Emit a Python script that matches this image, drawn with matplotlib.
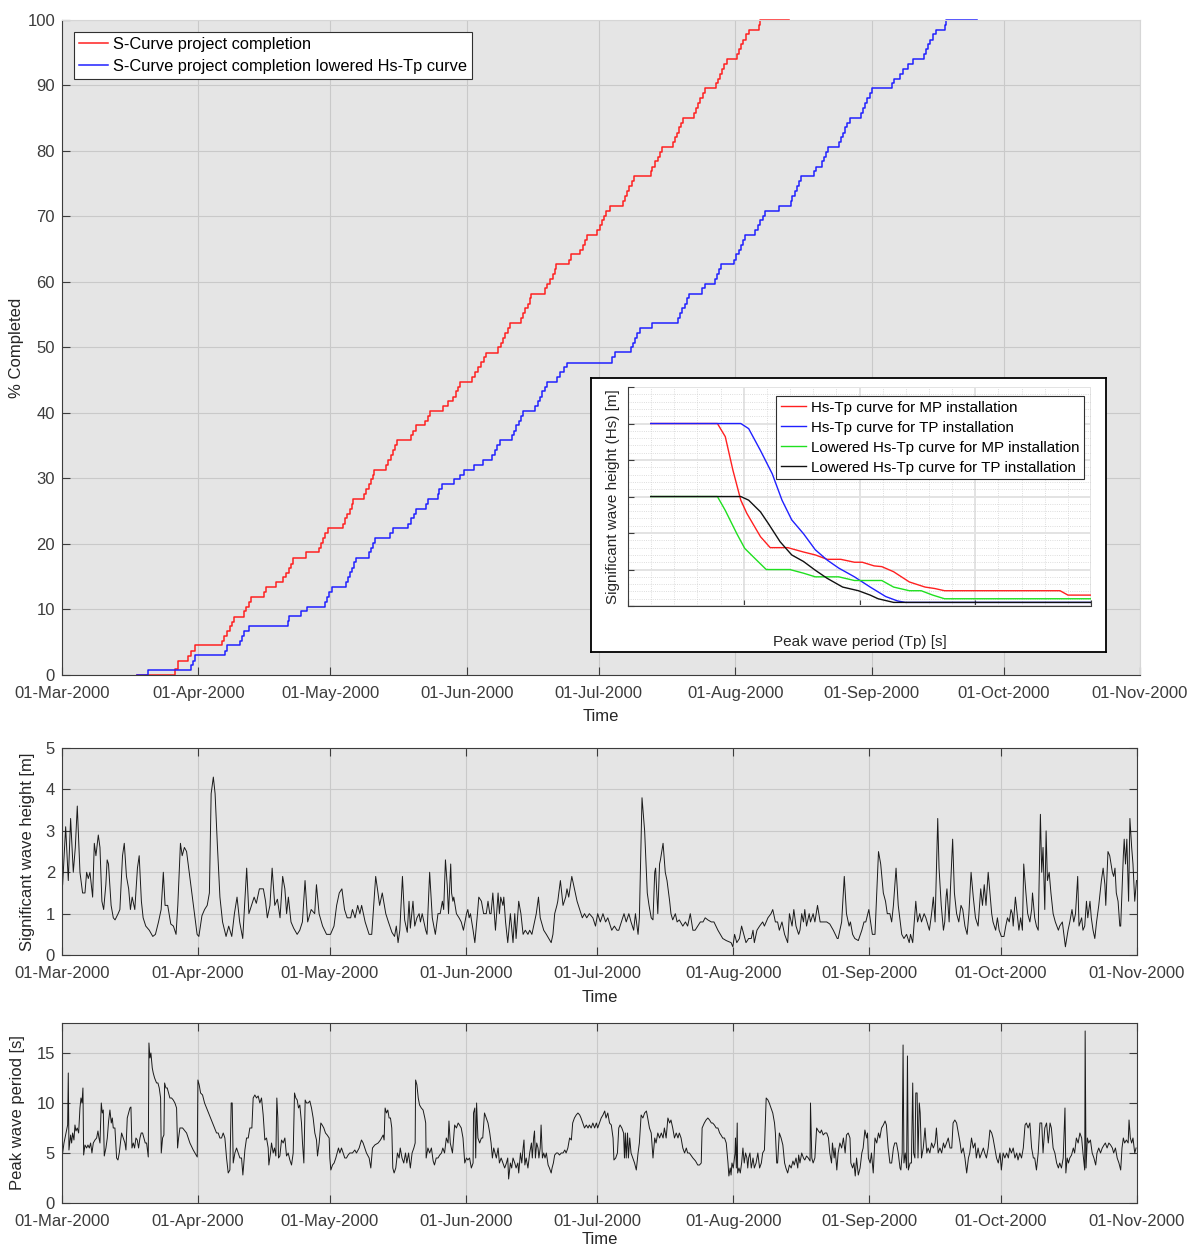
import numpy as np
import pandas as pd
import matplotlib
matplotlib.use('Agg')
import matplotlib.pyplot as plt
import matplotlib.dates as mdates
from matplotlib.ticker import MultipleLocator

plt.rcParams['font.family'] = ['Liberation Sans', 'DejaVu Sans']

START = pd.Timestamp('2000-03-01')
END = pd.Timestamp('2000-11-01')

# S-curves: (day since 01-Mar, % completed) step vertices
scurve_normal = [
    (17.1, 0), (25.6, 0.9), (26.3, 2.2), (28.7, 2.95), (29.4, 3.7), (30.2, 4.5), (36.3, 5.2), (36.9, 6.0),
    (37.5, 6.7), (38.1, 7.4), (38.6, 8.1), (39.0, 8.9), (41.4, 9.7), (41.9, 10.4), (42.4, 11.2), (43.0, 11.9),
    (45.9, 12.6), (46.4, 13.4), (48.7, 14.2), (50.3, 14.9), (51.0, 15.6), (51.5, 16.3), (52.0, 17.0), (52.5, 17.9),
    (55.4, 18.7), (58.4, 19.4), (58.9, 20.1), (59.4, 20.9), (59.8, 21.6), (60.4, 22.4), (63.9, 23.1), (64.3, 23.9),
    (64.8, 24.6), (65.4, 25.4), (65.9, 26.1), (66.2, 26.9), (68.7, 27.6), (69.2, 28.4), (69.7, 29.1), (70.2, 29.9),
    (70.6, 30.6), (71.0, 31.3), (73.7, 32.1), (74.2, 32.8), (74.8, 33.6), (75.3, 34.3), (75.8, 35.1), (76.1, 35.8),
    (79.3, 36.6), (79.8, 37.3), (80.4, 38.1), (82.6, 38.8), (83.1, 39.6), (83.6, 40.3), (86.5, 41.0), (87.8, 41.8),
    (88.9, 42.5), (89.5, 43.3), (90.0, 44.0), (90.5, 44.8), (93.2, 45.5), (93.9, 46.3), (94.5, 47.0), (95.2, 47.8),
    (95.9, 48.5), (96.3, 49.2), (99.1, 50.0), (99.7, 50.7), (100.2, 51.5), (100.8, 52.2), (101.4, 53.0), (101.8, 53.7),
    (104.3, 54.5), (104.8, 55.2), (105.3, 56.0), (105.9, 56.7), (106.3, 57.5), (106.7, 58.2), (109.7, 59.0), (110.3, 59.7),
    (110.9, 60.4), (111.5, 61.2), (112.0, 61.9), (112.3, 62.7), (115.2, 63.4), (115.8, 64.2), (117.8, 64.9), (118.4, 65.7),
    (118.9, 66.4), (119.3, 67.2), (121.6, 67.9), (122.2, 68.7), (122.7, 69.4), (123.2, 70.1), (123.7, 70.9), (124.6, 71.6),
    (127.6, 72.4), (128.0, 73.1), (128.4, 73.9), (128.9, 74.6), (129.5, 75.4), (130.0, 76.1), (133.8, 76.9), (134.2, 77.6),
    (134.8, 78.4), (135.4, 79.1), (135.9, 79.9), (136.3, 80.6), (138.8, 81.3), (139.3, 82.1), (139.8, 82.8), (140.3, 83.6),
    (140.8, 84.3), (141.2, 85.1), (143.7, 85.8), (144.1, 86.6), (144.6, 87.3), (145.0, 88.1), (145.6, 88.8), (146.1, 89.6),
    (148.6, 90.3), (149.0, 91.0), (149.5, 91.8), (150.0, 92.5), (150.5, 93.3), (151.2, 94.0), (153.4, 94.8), (153.9, 95.5),
    (154.4, 96.3), (154.9, 97.0), (155.5, 97.8), (156.1, 98.5), (158.4, 99.3), (158.6, 100), (165.3, 100),
]

scurve_lowered = [
    (17.1, 0), (19.6, 0.7), (29.3, 1.5), (29.8, 2.2), (30.3, 3.0), (37.0, 3.7), (37.4, 4.5), (40.4, 5.2),
    (40.9, 6.0), (41.3, 6.7), (42.6, 7.5), (51.3, 8.2), (51.7, 9.0), (54.3, 9.7), (55.7, 10.4), (59.8, 11.2),
    (60.2, 11.9), (60.8, 12.7), (61.3, 13.4), (64.5, 14.2), (65.0, 14.9), (65.4, 15.7), (65.9, 16.4), (66.4, 17.2),
    (66.9, 17.9), (69.7, 18.7), (70.3, 19.4), (70.6, 20.1), (71.1, 20.9), (74.6, 21.6), (75.2, 22.4), (78.7, 23.1),
    (79.4, 23.9), (80.0, 24.6), (80.5, 25.4), (82.8, 26.1), (83.3, 26.9), (85.4, 27.6), (85.8, 28.4), (86.4, 29.1),
    (89.0, 29.9), (90.4, 30.6), (91.3, 31.3), (93.7, 32.1), (95.8, 32.8), (97.8, 33.6), (98.4, 34.3), (98.9, 35.1),
    (99.5, 35.8), (102.2, 36.6), (102.8, 37.3), (103.3, 38.1), (103.8, 38.8), (104.3, 39.6), (104.8, 40.3), (107.6, 41.0),
    (108.1, 41.8), (108.7, 42.5), (109.2, 43.3), (109.8, 44.0), (110.2, 44.8), (112.6, 45.5), (113.2, 46.3), (114.0, 47.0),
    (114.8, 47.7), (125.1, 48.5), (125.8, 49.3), (129.4, 50.0), (129.8, 50.7), (130.2, 51.5), (130.7, 52.2), (131.4, 53.0),
    (134.2, 53.7), (140.0, 54.5), (140.4, 55.2), (140.9, 56.0), (141.5, 56.7), (142.0, 57.5), (142.5, 58.2), (145.5, 59.0),
    (146.1, 59.7), (148.4, 60.4), (148.9, 61.2), (149.4, 61.9), (149.9, 62.7), (152.8, 63.4), (153.3, 64.2), (153.8, 64.9),
    (154.4, 65.7), (154.9, 66.4), (155.3, 67.2), (157.6, 67.9), (158.2, 68.7), (158.7, 69.4), (159.3, 70.1), (159.8, 70.9),
    (162.9, 71.6), (165.6, 72.4), (166.0, 73.1), (166.5, 73.9), (167.0, 74.6), (167.5, 75.4), (168.0, 76.1), (170.9, 76.9),
    (171.4, 77.6), (172.7, 78.4), (173.1, 79.1), (173.6, 79.9), (174.1, 80.6), (176.7, 81.3), (177.1, 82.1), (177.5, 82.8),
    (177.9, 83.6), (178.4, 84.3), (179.1, 85.1), (181.6, 85.8), (182.1, 86.6), (182.5, 87.3), (183.0, 88.1), (183.6, 88.8),
    (184.2, 89.6), (188.7, 90.3), (189.1, 91.0), (190.5, 91.8), (191.1, 92.5), (192.3, 93.3), (193.4, 94.0), (195.9, 94.8),
    (196.4, 95.5), (196.9, 96.3), (197.4, 97.0), (198.0, 97.8), (198.7, 98.5), (200.8, 99.3), (201.0, 100), (207.9, 100),
]

# Hs-Tp limit curves (Tp [s], Hs [m])
hstp_mp = [(0.98, 2.5), (3.86, 2.5), (4.2, 2.32), (4.53, 1.86), (4.87, 1.45), (5.13, 1.27), (5.72, 0.95),
           (6.14, 0.8), (6.9, 0.8), (7.58, 0.74), (8.09, 0.7), (8.6, 0.64), (9.19, 0.64), (9.78, 0.6),
           (10.12, 0.6), (10.63, 0.55), (10.96, 0.54), (11.47, 0.47), (12.15, 0.33), (12.83, 0.26),
           (13.25, 0.24), (13.67, 0.21), (18.66, 0.21), (19.0, 0.15), (20.0, 0.15)]
hstp_tp = [(0.98, 2.5), (4.87, 2.5), (5.21, 2.43), (5.72, 2.13), (6.23, 1.81), (6.65, 1.45), (7.07, 1.18),
           (7.58, 0.99), (8.09, 0.77), (8.6, 0.63), (9.1, 0.52), (9.78, 0.4), (10.46, 0.26), (11.13, 0.13),
           (11.64, 0.07), (11.98, 0.05), (20.0, 0.05)]
hstp_mp_low = [(0.98, 1.5), (3.86, 1.5), (4.2, 1.31), (4.7, 0.99), (5.04, 0.79), (5.55, 0.63), (5.97, 0.5),
               (6.99, 0.5), (7.58, 0.45), (8.09, 0.4), (9.1, 0.4), (9.78, 0.35), (10.96, 0.35), (11.47, 0.26),
               (12.15, 0.21), (12.66, 0.21), (13.16, 0.15), (13.67, 0.1), (20.0, 0.1)]
hstp_tp_low = [(0.98, 1.5), (4.87, 1.5), (5.21, 1.45), (5.72, 1.29), (6.06, 1.13), (6.57, 0.88), (7.07, 0.7),
               (7.58, 0.61), (8.09, 0.49), (8.6, 0.38), (9.27, 0.26), (9.95, 0.21), (10.46, 0.15), (10.8, 0.1),
               (11.47, 0.05), (20.0, 0.05)]

# Significant wave height (day since 01-Mar, Hs [m])
hs_series = [
    (0.15, 1.7), (0.84, 3.1), (1.44, 1.8), (1.97, 3.3), (2.58, 2.0), (3.04, 2.6), (3.49, 3.6), (4.1, 2.0), (4.7, 1.5),
    (5.24, 1.5), (5.62, 2.0), (6.0, 1.85), (6.38, 2.0), (6.99, 1.4), (7.37, 2.7), (7.74, 2.4), (8.28, 2.9), (8.66, 2.6),
    (9.1, 1.3), (9.5, 1.1), (10.0, 1.7), (10.3, 2.3), (10.6, 2.2), (11.2, 1.2), (11.7, 0.9), (12.1, 0.85), (12.8, 1.0),
    (13.2, 1.1), (13.8, 2.4), (14.2, 2.7), (14.7, 1.9), (15.2, 1.6), (15.6, 1.1), (16.0, 1.4), (16.6, 1.1), (17.2, 2.1),
    (17.6, 2.4), (18.1, 1.3), (18.5, 0.9), (19.1, 0.7), (19.9, 0.6), (20.7, 0.45), (21.3, 0.5), (22.0, 0.8), (22.6, 1.1),
    (23.1, 2.0), (23.5, 1.2), (24.1, 1.2), (24.8, 0.75), (25.4, 0.7), (26.0, 0.5), (26.4, 1.2), (27.0, 2.7), (27.4, 2.4),
    (27.9, 2.6), (28.4, 2.5), (29.0, 2.0), (29.6, 1.5), (30.2, 1.0), (30.8, 0.5), (31.2, 0.45), (31.9, 0.95), (32.5, 1.1),
    (33.1, 1.2), (33.6, 1.5), (34.0, 3.9), (34.5, 4.3), (34.9, 3.9), (35.4, 2.7), (36.0, 1.4), (36.6, 0.8), (37.4, 0.45),
    (38.0, 0.7), (38.7, 0.45), (39.3, 1.0), (39.9, 1.4), (40.5, 0.8), (41.2, 0.4), (42.1, 2.1), (42.6, 1.0), (43.2, 1.2),
    (43.8, 1.4), (44.3, 1.25), (45.0, 1.6), (45.9, 1.6), (46.4, 1.3), (46.8, 0.9), (47.4, 1.2), (47.9, 2.1), (48.5, 1.2),
    (49.1, 1.35), (49.7, 0.9), (50.3, 1.9), (50.8, 1.6), (51.2, 1.0), (51.6, 1.4), (52.2, 0.8), (52.8, 0.65), (53.6, 0.5),
    (54.2, 0.6), (54.8, 0.8), (55.4, 1.8), (56.0, 0.8), (56.8, 1.1), (57.6, 1.0), (58.0, 1.7), (58.6, 1.0), (59.4, 0.7),
    (60.3, 0.5), (61.2, 0.5), (62.0, 0.7), (62.6, 1.2), (63.2, 1.5), (63.8, 1.6), (64.4, 1.1), (65.0, 0.9), (65.8, 0.9),
    (66.2, 1.1), (66.8, 0.9), (67.4, 1.2), (67.9, 1.0), (68.3, 1.2), (69.1, 0.8), (70.0, 0.5), (70.6, 0.5), (71.5, 1.9),
    (71.9, 1.6), (72.4, 1.2), (73.0, 1.5), (73.8, 1.0), (74.4, 0.8), (75.2, 0.55), (75.8, 0.45), (76.2, 0.7), (76.6, 0.3),
    (77.0, 0.6), (77.6, 1.9), (78.1, 0.85), (78.7, 0.55), (79.1, 1.3), (79.4, 0.65), (80.0, 1.3), (80.4, 0.7), (80.9, 0.9),
    (81.4, 1.0), (81.7, 0.8), (82.1, 1.0), (82.9, 0.6), (83.2, 0.5), (83.4, 1.0), (83.8, 2.0), (84.4, 0.9), (85.1, 0.5),
    (85.7, 1.0), (86.2, 1.0), (86.7, 1.3), (87.0, 1.1), (87.4, 2.3), (87.8, 1.7), (88.1, 1.0), (88.6, 2.2), (88.8, 1.5),
    (89.1, 1.3), (89.3, 1.4), (89.9, 1.0), (90.5, 0.9), (91.0, 0.8), (91.5, 0.6), (92.2, 1.0), (92.5, 1.1), (92.8, 0.9),
    (93.1, 1.0), (93.7, 0.6), (94.1, 0.3), (94.7, 1.0), (95.0, 1.4), (95.6, 1.3), (96.1, 1.0), (96.7, 1.0), (97.1, 1.3),
    (97.5, 1.0), (97.8, 1.0), (98.2, 1.5), (98.8, 0.6), (99.4, 1.5), (99.7, 1.0), (100.0, 1.4), (100.5, 1.2), (100.7, 1.4),
    (101.1, 0.8), (101.6, 0.3), (102.2, 1.0), (102.8, 0.3), (103.2, 1.0), (103.5, 0.4), (104.1, 1.3), (104.6, 1.0),
    (105.1, 0.5), (105.6, 0.6), (106.2, 0.5), (106.6, 0.6), (107.1, 0.5), (107.7, 0.8), (108.1, 1.0), (108.6, 1.4),
    (109.0, 0.9), (109.8, 0.6), (110.4, 0.5), (111.5, 0.3), (111.9, 0.5), (112.3, 1.0), (112.8, 1.2), (113.0, 1.3),
    (113.6, 1.8), (114.2, 1.2), (114.8, 1.4), (115.1, 1.6), (115.5, 1.4), (116.2, 1.9), (116.8, 1.6), (117.4, 1.3),
    (118.0, 1.1), (118.6, 0.9), (119.1, 1.0), (119.6, 0.9), (120.2, 1.0), (121.0, 0.9), (121.6, 0.7), (122.1, 1.0),
    (122.7, 0.8), (123.3, 1.0), (123.9, 0.8), (124.4, 0.9), (125.3, 0.6), (125.9, 0.7), (126.5, 0.6), (126.9, 0.6),
    (127.5, 0.8), (128.1, 1.0), (128.6, 0.8), (129.2, 1.0), (129.7, 0.8), (130.3, 0.6), (130.7, 1.0), (131.3, 0.5),
    (131.6, 0.9), (132.2, 3.8), (132.8, 3.0), (133.4, 1.5), (133.8, 1.2), (134.3, 0.9), (134.7, 0.85), (135.1, 2.0),
    (135.3, 2.1), (135.8, 1.0), (136.2, 2.2), (136.4, 2.3), (137.0, 2.7), (137.5, 2.0), (137.9, 1.8), (138.5, 1.3),
    (138.8, 1.0), (139.2, 0.85), (139.8, 1.0), (140.2, 0.8), (140.7, 0.85), (141.5, 0.7), (142.1, 0.8), (142.6, 0.7),
    (143.2, 1.0), (143.8, 0.6), (144.3, 0.6), (144.9, 0.7), (145.5, 0.8), (146.1, 0.8), (146.6, 0.9), (147.2, 0.85),
    (148.0, 0.8), (148.6, 0.8), (149.5, 0.6), (150.6, 0.4), (151.4, 0.35), (152.5, 0.3), (152.9, 0.2), (153.3, 0.5),
    (153.8, 0.3), (154.4, 0.4), (154.9, 0.7), (155.4, 0.5), (155.9, 0.3), (156.5, 0.4), (157.1, 0.4), (157.5, 0.6),
    (157.8, 0.3), (158.4, 0.6), (159.0, 0.7), (159.7, 0.8), (160.1, 0.7), (160.9, 0.9), (161.6, 1.0), (162.0, 1.1),
    (162.6, 0.8), (163.1, 0.8), (163.5, 0.6), (164.1, 0.8), (164.7, 0.5), (165.4, 0.3), (165.8, 1.0), (166.4, 0.7),
    (166.8, 1.1), (167.3, 0.7), (167.9, 0.5), (168.2, 0.6), (168.6, 1.0), (169.0, 0.8), (169.3, 1.1), (169.7, 0.7),
    (170.3, 1.0), (170.6, 0.8), (171.2, 1.0), (171.6, 0.8), (172.2, 1.2), (172.8, 0.8), (173.5, 0.8), (174.3, 0.8),
    (175.0, 0.75), (175.8, 0.6), (176.7, 0.4), (176.9, 0.4), (177.7, 0.8), (178.3, 1.9), (178.8, 1.0), (179.4, 0.7),
    (179.7, 0.8), (180.2, 0.5), (180.7, 0.4), (181.5, 0.35), (182.3, 0.6), (182.8, 0.8), (183.2, 0.8), (183.9, 1.1),
    (184.3, 0.8), (184.7, 0.5), (185.3, 0.5), (186.1, 2.5), (186.6, 2.2), (187.2, 1.5), (187.7, 1.3), (188.1, 1.0),
    (188.7, 1.0), (189.1, 0.8), (189.5, 1.2), (190.1, 2.1), (190.6, 1.2), (191.4, 0.5), (191.9, 0.4), (192.5, 0.5),
    (193.1, 0.3), (193.4, 0.5), (193.9, 0.3), (194.6, 1.3), (195.0, 0.8), (195.5, 1.0), (195.9, 0.8), (196.5, 1.0),
    (196.9, 0.9), (197.7, 0.6), (198.2, 1.0), (198.6, 1.4), (199.0, 0.8), (199.6, 3.3), (199.9, 2.1), (200.4, 1.2),
    (200.9, 0.6), (201.2, 0.8), (201.5, 1.4), (201.7, 1.6), (202.2, 0.8), (202.5, 1.6), (203.0, 2.8), (203.4, 1.5),
    (203.9, 1.0), (204.4, 0.8), (204.9, 1.2), (205.3, 1.1), (205.8, 0.7), (206.3, 0.5), (206.7, 1.0), (207.2, 2.0),
    (207.7, 1.4), (208.2, 0.9), (208.8, 0.7), (209.4, 1.6), (209.8, 1.2), (210.2, 1.7), (210.6, 1.2), (211.1, 2.0),
    (211.5, 1.5), (211.9, 1.0), (212.2, 0.8), (212.8, 0.6), (213.2, 0.9), (213.6, 0.6), (214.1, 0.45), (214.7, 0.45),
    (215.1, 0.7), (215.5, 0.9), (215.9, 0.8), (216.3, 1.1), (216.6, 1.0), (216.8, 0.7), (217.3, 1.4), (217.7, 1.0),
    (218.1, 0.6), (218.5, 0.9), (218.9, 0.6), (219.2, 2.2), (219.7, 1.5), (220.1, 1.0), (220.6, 0.8), (221.0, 1.1),
    (221.2, 1.5), (221.7, 0.9), (222.1, 0.7), (222.5, 0.6), (223.0, 3.4), (223.3, 2.0), (223.6, 2.6), (224.0, 1.1),
    (224.3, 3.0), (224.6, 1.8), (225.0, 2.0), (225.4, 1.5), (225.9, 1.0), (226.4, 0.8), (227.1, 0.6), (227.4, 0.7),
    (228.0, 0.8), (228.7, 0.2), (229.3, 0.6), (229.7, 0.8), (230.2, 1.1), (230.6, 0.8), (231.0, 1.0), (231.5, 1.9),
    (231.8, 0.7), (232.4, 0.9), (232.7, 0.6), (233.1, 0.7), (233.5, 1.3), (233.8, 0.9), (234.3, 1.3), (234.6, 0.9),
    (235.0, 0.6), (235.4, 0.4), (235.8, 0.8), (236.3, 1.2), (236.9, 1.8), (237.3, 2.1), (237.7, 1.7), (237.9, 1.2),
    (238.4, 2.5), (238.8, 2.4), (239.4, 2.0), (239.7, 1.9), (240.0, 2.1), (240.3, 1.5), (240.7, 1.3), (241.1, 0.7),
    (241.3, 0.7), (241.9, 2.4), (242.1, 2.8), (242.4, 2.2), (242.7, 2.8), (243.1, 1.3), (243.4, 3.3), (243.8, 2.6),
    (244.1, 2.2), (244.5, 1.3), (244.9, 1.8),
]

# Peak wave period (day since 01-Mar, Tp [s])
tp_series = [
    (0.15, 5.0), (0.46, 6.0), (0.91, 7.0), (1.29, 7.8), (1.44, 13.0), (1.59, 5.3), (1.97, 6.8), (2.2, 6.0), (2.43, 7.0),
    (2.73, 6.3), (2.96, 7.8), (3.19, 7.2), (3.49, 7.5), (3.8, 7.0), (4.1, 9.5), (4.33, 10.5), (4.56, 10.0), (4.78, 11.5),
    (4.94, 4.8), (5.24, 5.8), (5.62, 5.5), (5.92, 5.8), (6.23, 5.5), (6.53, 6.0), (6.83, 5.0), (7.14, 6.0), (7.52, 6.3),
    (7.9, 6.5), (8.2, 7.2), (8.43, 6.5), (8.66, 6.0), (8.96, 10.0), (9.19, 9.0), (9.42, 9.3), (9.64, 4.7), (10.02, 5.5),
    (10.33, 6.5), (10.63, 8.2), (10.93, 9.3), (11.24, 8.0), (11.47, 8.5), (11.69, 7.5), (12.07, 7.5), (12.45, 4.5),
    (12.76, 4.3), (13.06, 5.0), (13.59, 7.0), (13.97, 6.5), (14.35, 6.0), (14.58, 5.3), (14.88, 8.5), (15.19, 9.0),
    (15.49, 9.5), (15.72, 9.6), (15.95, 5.5), (16.25, 6.0), (16.55, 5.5), (16.86, 6.5), (17.16, 6.3), (17.46, 5.5),
    (17.77, 6.5), (18.07, 7.0), (18.37, 7.0), (18.68, 6.5), (18.98, 6.0), (19.29, 6.0), (19.67, 4.6), (19.82, 16.0),
    (20.05, 14.5), (20.27, 15.0), (20.58, 13.5), (20.8, 13.0), (21.11, 12.5), (21.56, 12.0), (21.87, 12.0), (22.17, 11.5),
    (22.48, 10.5), (22.63, 5.0), (22.93, 6.5), (23.23, 6.8), (23.39, 12.0), (23.69, 11.5), (23.99, 11.5), (24.3, 11.0),
    (24.6, 10.5), (24.98, 10.5), (25.36, 10.3), (25.74, 10.0), (26.12, 9.5), (26.35, 5.5), (26.58, 6.5), (26.88, 7.5),
    (27.49, 7.5), (28.4, 7.0), (29.16, 6.0), (29.92, 5.3), (30.83, 4.6), (30.98, 12.3), (31.28, 11.8), (31.59, 11.0),
    (32.04, 10.8), (32.5, 10.0), (32.95, 9.5), (33.41, 9.0), (33.87, 8.5), (34.32, 8.0), (34.78, 7.5), (35.23, 7.0),
    (35.61, 7.0), (35.99, 6.5), (36.37, 6.5), (36.75, 7.0), (37.13, 6.5), (37.51, 4.5), (37.89, 3.0), (38.27, 3.3),
    (38.57, 10.0), (38.8, 10.0), (39.03, 4.0), (39.41, 5.0), (39.79, 5.5), (40.17, 5.0), (40.55, 4.5), (40.93, 4.5),
    (41.23, 2.8), (41.69, 5.3), (42.07, 6.5), (42.45, 6.5), (42.82, 7.5), (43.28, 7.5), (43.58, 10.5), (43.96, 10.8),
    (44.34, 10.5), (44.72, 10.7), (45.1, 10.0), (45.48, 10.5), (45.86, 8.8), (46.24, 6.3), (46.62, 6.5), (47.0, 5.5),
    (47.15, 3.8), (47.53, 5.0), (47.76, 6.0), (48.14, 5.0), (48.44, 5.5), (48.75, 4.7), (48.97, 10.5), (49.2, 8.5),
    (49.35, 4.5), (49.66, 4.7), (50.04, 6.3), (50.42, 6.0), (50.8, 6.5), (51.18, 4.7), (51.56, 5.0), (51.94, 4.3),
    (52.32, 3.8), (52.7, 5.0), (53.0, 11.0), (53.3, 10.5), (53.61, 10.3), (53.91, 9.5), (54.21, 9.8), (54.59, 8.0),
    (54.82, 6.0), (55.13, 4.0), (55.43, 10.3), (55.73, 10.0), (56.11, 10.0), (56.49, 10.2), (56.87, 9.5), (57.25, 8.5),
    (57.63, 7.0), (58.01, 6.3), (58.24, 4.7), (58.62, 6.0), (59.0, 8.0), (59.3, 7.8), (59.68, 7.5), (60.06, 7.0),
    (60.44, 6.8), (60.9, 6.5), (61.05, 4.5), (61.28, 3.3), (61.66, 3.8), (62.03, 4.0), (62.41, 4.5), (62.72, 5.0),
    (63.02, 5.5), (63.33, 5.0), (63.71, 5.5), (64.09, 5.0), (64.46, 4.5), (64.84, 4.5), (65.22, 4.8), (65.6, 5.0),
    (66.21, 5.0), (66.74, 5.3), (67.12, 5.0), (67.73, 5.5), (68.26, 6.3), (68.64, 6.0), (69.02, 5.5), (69.4, 5.0),
    (70.01, 4.5), (70.39, 3.5), (70.77, 5.5), (71.3, 5.8), (72.06, 6.0), (72.59, 6.3), (73.2, 6.8), (73.42, 6.3),
    (73.65, 9.5), (73.96, 9.0), (74.26, 9.3), (74.56, 8.5), (74.87, 8.5), (75.17, 7.5), (75.4, 3.5), (75.7, 3.0),
    (76.08, 3.5), (76.46, 5.0), (76.84, 4.5), (77.1, 5.5), (77.5, 4.5), (77.9, 4.0), (78.3, 5.0), (78.6, 4.0), (79.0, 5.0),
    (79.4, 3.5), (79.8, 5.0), (80.2, 5.5), (80.5, 6.0), (80.6, 12.3), (80.9, 11.8), (81.2, 10.5), (81.5, 9.8), (81.9, 9.5),
    (82.3, 9.3), (82.7, 8.5), (82.9, 8.0), (83.0, 4.5), (83.4, 5.5), (83.8, 5.0), (84.2, 5.5), (84.6, 4.2), (84.9, 3.8),
    (85.3, 4.5), (85.7, 4.5), (86.1, 4.8), (86.5, 5.0), (86.8, 5.5), (87.2, 5.0), (87.6, 6.5), (88.0, 6.0), (88.2, 8.2),
    (88.5, 6.0), (89.0, 5.0), (89.5, 7.8), (89.9, 7.5), (90.3, 8.0), (90.6, 7.8), (91.0, 7.5), (91.4, 6.5), (91.8, 4.0),
    (92.2, 4.5), (92.5, 4.3), (92.9, 4.5), (93.3, 3.5), (93.7, 4.0), (93.8, 9.0), (94.1, 9.5), (94.3, 4.5), (94.5, 10.0),
    (94.8, 6.5), (95.2, 6.0), (95.6, 6.5), (95.9, 6.5), (96.3, 9.0), (96.7, 8.5), (97.1, 8.0), (97.5, 7.0), (97.8, 6.0),
    (98.1, 4.5), (98.4, 5.5), (98.7, 5.0), (99.0, 4.5), (99.4, 5.5), (99.7, 4.0), (100.1, 4.5), (100.5, 4.0),
    (100.9, 3.5), (101.3, 4.0), (101.6, 4.5), (101.8, 2.4), (102.2, 4.0), (102.5, 3.5), (102.8, 4.5), (103.2, 4.0),
    (103.5, 3.5), (103.9, 4.0), (104.1, 3.0), (104.5, 5.0), (104.8, 4.0), (105.1, 5.5), (105.3, 6.3), (105.5, 3.8),
    (105.8, 4.5), (106.2, 3.5), (106.6, 5.0), (107.0, 6.0), (107.2, 4.5), (107.5, 6.5), (107.7, 7.2), (107.9, 4.5),
    (108.2, 6.0), (108.5, 5.5), (108.7, 4.5), (109.0, 5.5), (109.2, 7.8), (109.5, 4.5), (109.8, 5.0), (110.1, 4.5),
    (110.4, 5.0), (110.8, 3.8), (111.1, 3.5), (111.5, 3.0), (111.7, 3.5), (112.0, 4.0), (112.3, 4.8), (112.7, 5.0),
    (113.0, 5.0), (113.4, 4.8), (113.8, 5.0), (114.2, 5.0), (114.6, 5.3), (114.9, 5.0), (115.3, 5.5), (115.7, 6.5),
    (116.1, 6.3), (116.4, 8.0), (116.8, 8.5), (117.2, 8.8), (117.6, 9.0), (118.0, 8.8), (118.3, 8.5), (118.7, 8.0),
    (119.1, 7.5), (119.5, 7.8), (119.9, 7.5), (120.2, 7.8), (120.6, 7.5), (121.0, 8.0), (121.4, 7.5), (121.8, 8.0),
    (122.1, 7.5), (122.5, 8.0), (122.9, 8.5), (123.3, 8.8), (123.7, 9.2), (124.0, 8.5), (124.4, 9.0), (124.8, 8.0),
    (125.2, 7.8), (125.6, 6.5), (125.8, 4.3), (126.2, 4.5), (126.6, 5.0), (126.9, 7.5), (127.2, 7.8), (127.6, 7.5),
    (128.0, 7.0), (128.2, 4.5), (128.4, 7.0), (128.6, 4.5), (128.9, 7.0), (129.1, 4.5), (129.4, 6.5), (129.7, 5.0),
    (130.1, 4.5), (130.5, 4.0), (130.9, 3.3), (131.3, 5.0), (131.6, 6.0), (132.0, 8.8), (132.4, 8.5), (132.8, 9.0),
    (133.2, 9.2), (133.5, 8.5), (133.9, 7.5), (134.3, 7.0), (134.7, 4.5), (135.1, 6.5), (135.4, 6.0), (135.8, 7.0),
    (136.2, 6.5), (136.6, 7.0), (137.0, 6.5), (137.3, 7.5), (137.7, 6.5), (138.1, 8.5), (138.5, 8.0), (138.8, 8.3),
    (139.2, 7.5), (139.6, 6.5), (140.0, 7.0), (140.4, 6.5), (140.7, 7.0), (141.1, 6.5), (141.5, 5.5), (141.9, 5.0),
    (142.3, 5.5), (142.6, 5.0), (143.0, 5.0), (143.8, 4.5), (144.4, 4.2), (144.9, 3.8), (145.3, 3.8), (145.7, 4.0),
    (145.9, 7.5), (146.4, 8.0), (146.8, 8.3), (147.2, 8.5), (147.6, 8.3), (148.0, 8.0), (148.3, 8.0), (148.7, 7.8),
    (149.1, 7.5), (149.5, 7.5), (149.9, 7.0), (150.2, 6.8), (150.6, 6.5), (151.0, 6.5), (151.4, 6.0), (151.8, 4.0),
    (152.0, 2.7), (152.3, 3.5), (152.5, 2.8), (152.7, 4.0), (153.0, 3.5), (153.4, 5.0), (153.5, 6.5), (153.7, 3.5),
    (153.9, 8.0), (154.0, 3.0), (154.3, 3.5), (154.6, 3.0), (154.9, 4.0), (155.2, 5.5), (155.5, 4.0), (155.8, 5.0),
    (156.1, 4.5), (156.3, 3.5), (156.5, 4.5), (156.8, 5.0), (157.1, 3.5), (157.5, 4.5), (157.8, 3.5), (158.2, 4.0),
    (158.6, 5.0), (159.0, 3.5), (159.4, 4.0), (159.7, 5.0), (160.1, 5.3), (160.5, 10.5), (160.9, 10.3), (161.2, 10.0),
    (161.6, 9.5), (162.0, 9.0), (162.4, 8.0), (162.6, 7.0), (162.9, 4.0), (163.1, 4.0), (163.5, 7.0), (163.9, 6.5),
    (164.3, 5.8), (164.7, 4.0), (165.0, 3.5), (165.4, 3.0), (165.8, 3.8), (166.2, 3.5), (166.6, 4.2), (166.9, 3.8),
    (167.3, 4.5), (167.7, 3.5), (167.9, 4.8), (168.2, 4.0), (168.6, 5.0), (169.0, 4.5), (169.3, 4.3), (169.7, 4.7),
    (170.1, 4.5), (170.5, 4.2), (170.6, 10.0), (170.9, 4.5), (171.2, 4.0), (171.6, 4.5), (172.0, 7.5), (172.4, 7.2),
    (172.8, 7.0), (173.1, 7.3), (173.5, 6.8), (173.9, 7.0), (174.3, 7.0), (174.7, 6.5), (175.0, 5.0), (175.4, 4.0),
    (175.6, 6.0), (176.0, 4.5), (176.2, 5.5), (176.6, 3.3), (176.9, 5.0), (177.3, 6.0), (177.7, 5.5), (178.1, 6.5),
    (178.5, 5.0), (178.8, 6.8), (179.2, 7.0), (179.6, 6.5), (179.8, 4.0), (180.2, 3.5), (180.5, 4.0), (180.8, 2.7),
    (181.1, 4.5), (181.5, 2.8), (181.9, 3.5), (182.3, 5.0), (182.6, 5.5), (183.0, 7.3), (183.4, 6.5), (183.6, 7.0),
    (183.8, 4.5), (184.2, 4.0), (184.5, 5.0), (184.9, 3.0), (185.3, 6.5), (185.7, 6.0), (186.1, 7.0), (186.4, 6.5),
    (186.8, 7.5), (187.2, 7.8), (187.6, 8.2), (187.9, 7.8), (188.3, 5.5), (188.7, 4.0), (189.1, 4.0), (189.5, 5.5),
    (189.8, 6.0), (190.2, 6.0), (190.6, 5.0), (191.0, 3.5), (191.2, 3.3), (191.5, 5.0), (191.7, 15.8), (191.9, 4.0),
    (192.2, 5.0), (192.5, 3.5), (192.7, 14.7), (192.9, 3.3), (193.3, 4.0), (193.6, 4.0), (193.9, 12.0), (194.1, 5.0),
    (194.4, 4.5), (194.6, 11.0), (194.9, 11.0), (195.1, 4.5), (195.4, 10.0), (195.6, 9.0), (195.9, 4.5), (196.3, 5.5),
    (196.7, 7.5), (197.1, 5.0), (197.4, 5.5), (197.8, 5.0), (198.2, 6.0), (198.6, 5.5), (199.0, 6.0), (199.3, 7.5),
    (199.7, 5.0), (200.1, 5.5), (200.5, 5.0), (200.9, 6.0), (201.2, 5.5), (201.6, 6.0), (202.0, 6.5), (202.4, 5.5),
    (202.8, 5.5), (203.1, 8.0), (203.5, 8.3), (203.9, 8.0), (204.3, 7.0), (204.7, 6.0), (205.0, 5.0), (205.4, 5.5),
    (205.8, 4.5), (206.2, 3.0), (206.6, 4.5), (206.9, 5.0), (207.3, 6.5), (207.7, 5.5), (208.1, 6.0), (208.4, 4.5),
    (208.8, 5.5), (209.2, 4.5), (209.6, 5.0), (210.0, 5.5), (210.3, 5.0), (210.7, 4.5), (211.1, 5.5), (211.5, 7.3),
    (211.9, 7.0), (212.2, 6.5), (212.6, 5.5), (213.0, 4.5), (213.4, 4.0), (213.8, 5.0), (214.1, 3.3), (214.5, 5.0),
    (214.9, 4.5), (215.3, 5.0), (215.7, 4.5), (216.0, 5.5), (216.4, 5.0), (216.8, 5.5), (217.2, 4.5), (217.6, 5.0),
    (217.9, 4.3), (218.3, 5.0), (218.7, 4.5), (219.1, 5.5), (219.5, 7.8), (219.8, 8.0), (220.2, 7.5), (220.6, 8.0),
    (221.0, 5.5), (221.4, 4.5), (221.7, 4.5), (222.1, 3.3), (222.5, 5.0), (222.9, 8.0), (223.3, 8.0), (223.6, 5.0),
    (224.0, 7.5), (224.4, 8.0), (224.8, 6.0), (225.2, 8.0), (225.5, 7.5), (225.9, 5.5), (226.3, 5.0), (226.7, 4.0),
    (227.1, 3.5), (227.4, 4.0), (227.8, 3.5), (228.2, 4.5), (228.6, 9.5), (228.8, 3.0), (229.1, 4.5), (229.4, 4.0),
    (229.7, 4.5), (230.1, 4.8), (230.5, 5.5), (230.8, 5.0), (231.2, 6.5), (231.6, 6.0), (232.0, 7.0), (232.4, 6.5),
    (232.7, 5.0), (233.1, 3.3), (233.2, 17.2), (233.4, 3.5), (233.7, 6.5), (234.0, 6.0), (234.4, 6.3), (234.8, 5.0),
    (235.2, 4.5), (235.6, 3.8), (235.9, 5.0), (236.3, 5.5), (236.7, 5.0), (237.1, 5.5), (237.5, 5.8), (237.8, 6.0),
    (238.2, 5.5), (238.6, 6.0), (239.0, 5.8), (239.4, 5.5), (239.7, 5.0), (240.1, 5.5), (240.5, 4.5), (240.9, 4.0),
    (241.3, 3.3), (241.6, 5.5), (241.9, 6.5), (242.2, 6.0), (242.6, 6.3), (243.0, 6.0), (243.2, 8.3), (243.5, 6.5),
    (243.8, 6.0), (244.1, 6.5), (244.5, 5.0), (244.8, 5.5),
]

BG = '#e5e5e5'
GRID = '#c9c9c9'
AX = '#3c3c3c'
TICK_FS = 12


def to_time(days):
    return START + pd.to_timedelta(np.asarray(days, dtype=float), unit='D')


def split(points):
    d, v = zip(*points)
    return to_time(d), np.array(v)


def style_time_axis(ax, box=True, xlabelpad=6):
    ax.set_facecolor(BG)
    ax.set_xlim(START, END)
    ax.xaxis.set_major_locator(mdates.MonthLocator())
    ax.xaxis.set_major_formatter(mdates.DateFormatter('%d-%b-%Y'))
    ax.grid(True, color=GRID, linewidth=0.8)
    ax.set_axisbelow(True)
    ax.tick_params(direction='in', labelsize=TICK_FS, colors=AX, length=6, width=0.8,
                   top=box, right=box)
    ax.tick_params(axis='x', pad=8)
    ax.tick_params(axis='y', pad=5)
    for s in ['left', 'bottom']:
        ax.spines[s].set_color(AX)
    for s in ['top', 'right']:
        ax.spines[s].set_color(AX if box else '#d6d6d6')
    ax.set_xlabel('Time', fontsize=TICK_FS, color='#262626', labelpad=xlabelpad)


fig = plt.figure(figsize=(11.94, 12.46), dpi=100)

# --- S-curve panel
ax1 = fig.add_axes([0.0519, 0.4583, 0.9028, 0.5257])
style_time_axis(ax1, box=False)
t, v = split(scurve_normal)
ax1.plot(t, v, drawstyle='steps-post', color='#ff2020', lw=1.1, clip_on=False,
         label='S-Curve project completion')
t, v = split(scurve_lowered)
ax1.plot(t, v, drawstyle='steps-post', color='#2020ff', lw=1.1, clip_on=False,
         label='S-Curve project completion lowered Hs-Tp curve')
ax1.set_ylim(0, 100)
ax1.yaxis.set_major_locator(MultipleLocator(10))
ax1.set_ylabel('% Completed', fontsize=TICK_FS, color='#262626', labelpad=2)
leg = ax1.legend(loc='upper left', bbox_to_anchor=(0.011, 0.982), borderaxespad=0,
                 fontsize=11.8, fancybox=False, framealpha=1, edgecolor='#303030',
                 handlelength=1.8, handletextpad=0.3, borderpad=0.3, labelspacing=0.45)
leg.get_frame().set_linewidth(0.8)

# --- inset with Hs-Tp curves
box = fig.add_axes([0.495, 0.4767, 0.431, 0.2199])
box.set_facecolor('white')
box.set_xticks([])
box.set_yticks([])
for s in box.spines.values():
    s.set_color('black')
    s.set_linewidth(1.3)

ins = fig.add_axes([0.526, 0.5136, 0.3878, 0.1758])
ins.set_facecolor('white')
ins.set_xlim(0, 20)
ins.set_ylim(0, 3)
ins.xaxis.set_major_locator(MultipleLocator(5))
ins.xaxis.set_minor_locator(MultipleLocator(1))
ins.yaxis.set_major_locator(MultipleLocator(0.5))
ins.yaxis.set_minor_locator(MultipleLocator(0.1))
ins.grid(True, which='major', color='#e3e3e3', linewidth=1.4)
ins.grid(True, which='minor', color='#d2d2d2', linewidth=0.6, linestyle=':')
ins.set_axisbelow(True)
ins.tick_params(which='both', direction='in', labelbottom=False, labelleft=False, colors=AX)
ins.tick_params(which='major', length=4)
ins.tick_params(which='minor', length=0)
ins.spines['top'].set_visible(False)
ins.spines['right'].set_visible(False)
for s in ['left', 'bottom']:
    ins.spines[s].set_color(AX)
for pts, col, lab in [(hstp_mp, '#ff2020', 'Hs-Tp curve for MP installation'),
                      (hstp_tp, '#2020ff', 'Hs-Tp curve for TP installation'),
                      (hstp_mp_low, '#20e020', 'Lowered Hs-Tp curve for MP installation'),
                      (hstp_tp_low, '#111111', 'Lowered Hs-Tp curve for TP installation')]:
    x, y = zip(*pts)
    ins.plot(x, y, color=col, lw=1.0, label=lab)
ins.set_xlabel('Peak wave period (Tp) [s]', fontsize=11, color='#262626', labelpad=21)
ins.set_ylabel('Significant wave height (Hs) [m]', fontsize=11, color='#262626', labelpad=6)
leg2 = ins.legend(loc='upper left', bbox_to_anchor=(0.32, 0.959), borderaxespad=0,
                  fontsize=10.9, fancybox=False, framealpha=1, edgecolor='#303030',
                  handlelength=1.7, handletextpad=0.3, borderpad=0.3, labelspacing=0.4)
leg2.get_frame().set_linewidth(0.8)

# --- Hs panel
ax2 = fig.add_axes([0.0519, 0.2335, 0.9003, 0.1661])
style_time_axis(ax2)
t, v = split(hs_series)
ax2.plot(t, v, color='#1a1a1a', lw=0.7)
ax2.set_ylim(0, 5)
ax2.yaxis.set_major_locator(MultipleLocator(1))
ax2.set_ylabel('Significant wave height [m]', fontsize=TICK_FS, color='#262626', labelpad=8)

# --- Tp panel
ax3 = fig.add_axes([0.0519, 0.0345, 0.9003, 0.1445])
style_time_axis(ax3, xlabelpad=2)
t, v = split(tp_series)
ax3.plot(t, v, color='#1a1a1a', lw=0.7)
ax3.set_ylim(0, 18)
ax3.set_yticks([0, 5, 10, 15])
ax3.set_ylabel('Peak wave period [s]', fontsize=TICK_FS, color='#262626', labelpad=8)

fig.savefig('out.png', dpi=100, facecolor='white')
